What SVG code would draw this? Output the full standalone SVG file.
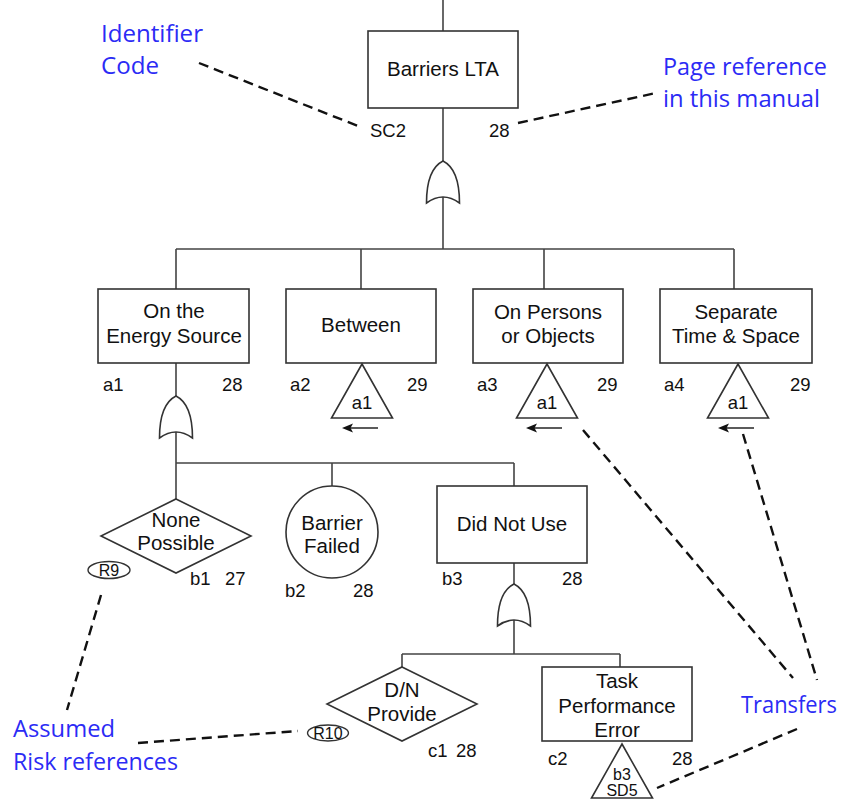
<svg xmlns="http://www.w3.org/2000/svg" width="847" height="799" viewBox="0 0 847 799">
<style>
.ln{stroke:#444;stroke-width:1.6;fill:none}
.bx{fill:#fff;stroke:#333;stroke-width:1.6}
.t{font-family:"Liberation Sans",Arial,sans-serif;font-size:20.5px;fill:#111;text-anchor:middle}
.lb{font-family:"Liberation Sans",Arial,sans-serif;font-size:18.5px;fill:#111}
.sm{font-family:"Liberation Sans",Arial,sans-serif;font-size:16px;fill:#111;text-anchor:middle}
.bl{font-family:"Open Sans","Noto Sans",sans-serif;font-size:24px;fill:#2b2bf5}
.ds{stroke:#111;stroke-width:2.4;stroke-dasharray:10,6;fill:none}
</style>
<defs>
<path id="gate" d="M0,0 C10,5 16.5,17 16.5,42 Q0,30 -16.5,42 C-16.5,17 -10,5 0,0Z" fill="#fff" stroke="#333" stroke-width="1.6"/>
<path id="tri" d="M0,0 L30.5,54 L-30.5,54Z" fill="#fff" stroke="#333" stroke-width="1.6"/>
<path id="arrow" d="M36,0 H4" stroke="#333" stroke-width="1.6" fill="none"/>
<path id="head" d="M0,0 L11,-4.5 L8.5,0 L11,4.5Z" fill="#111"/>
</defs>
<g id="connectors">
<path class="ln" d="M443,0V31 M443,108V161 M443,197V249 M176,249H734 M176,249V289 M361,249V289 M544,249V289 M734,249V289 M176,363V396 M176,432V499 M176,463H514 M332,463V486 M514,463V486 M514,563V584 M514,620V654 M402,654H620 M402,654V667 M620,654V667"/>
<g id="transfer-arrows">
<use href="#arrow" transform="translate(342,428)"/><use href="#head" transform="translate(342,428)"/>
<use href="#arrow" transform="translate(526,428)"/><use href="#head" transform="translate(526,428)"/>
<use href="#arrow" transform="translate(718,428)"/><use href="#head" transform="translate(718,428)"/>
</g>
<g id="gates">
<use href="#gate" transform="translate(443,161)"/>
<use href="#gate" transform="translate(176,396)"/>
<use href="#gate" transform="translate(514,584)"/>
</g>
</g>
<g id="annotations">
<path class="ds" d="M199,63 L358,126"/>
<path class="ds" d="M518,123 L656,93"/>
<path class="ds" d="M101,595 L67,710"/>
<path class="ds" d="M138,743 L298,731"/>
<path class="ds" d="M583,430 L793,678"/>
<path class="ds" d="M743,434 L817,680"/>
<path class="ds" d="M797,729 L657,788"/>
<text class="bl" x="101" y="42" textLength="102" lengthAdjust="spacingAndGlyphs">Identifier</text>
<text class="bl" x="101" y="74" textLength="58" lengthAdjust="spacingAndGlyphs">Code</text>
<text class="bl" x="663" y="75" textLength="164" lengthAdjust="spacingAndGlyphs">Page reference</text>
<text class="bl" x="663" y="107" textLength="157" lengthAdjust="spacingAndGlyphs">in this manual</text>
<text class="bl" x="13" y="737" textLength="102" lengthAdjust="spacingAndGlyphs">Assumed</text>
<text class="bl" x="13" y="770" textLength="165" lengthAdjust="spacingAndGlyphs">Risk references</text>
<text class="bl" x="741" y="713" textLength="96" lengthAdjust="spacingAndGlyphs">Transfers</text>
</g>
<g id="SC2">
<rect class="bx" x="368" y="31" width="150" height="77"/>
<text class="t" x="443" y="76">Barriers LTA</text>
<text class="lb" x="370" y="137">SC2</text>
<text class="lb" x="489" y="137">28</text>
</g>
<g id="a1">
<rect class="bx" x="98" y="289" width="151" height="74"/>
<text class="t" x="174" y="318">On the</text>
<text class="t" x="174" y="343">Energy Source</text>
<text class="lb" x="103" y="391">a1</text>
<text class="lb" x="222" y="391">28</text>
</g>
<g id="a2">
<rect class="bx" x="286" y="289" width="150" height="74"/>
<text class="t" x="361" y="332">Between</text>
<text class="lb" x="290" y="391">a2</text>
<text class="lb" x="407" y="391">29</text>
<use href="#tri" transform="translate(362,364)"/>
<text class="lb" x="362" y="409" text-anchor="middle">a1</text>
</g>
<g id="a3">
<rect class="bx" x="473" y="289" width="150" height="74"/>
<text class="t" x="548" y="319">On Persons</text>
<text class="t" x="548" y="343">or Objects</text>
<text class="lb" x="477" y="391">a3</text>
<text class="lb" x="597" y="391">29</text>
<use href="#tri" transform="translate(547,364)"/>
<text class="lb" x="547" y="409" text-anchor="middle">a1</text>
</g>
<g id="a4">
<rect class="bx" x="660" y="289" width="152" height="74"/>
<text class="t" x="736" y="319">Separate</text>
<text class="t" x="736" y="343">Time &amp; Space</text>
<text class="lb" x="664" y="391">a4</text>
<text class="lb" x="790" y="391">29</text>
<use href="#tri" transform="translate(738,364)"/>
<text class="lb" x="738" y="409" text-anchor="middle">a1</text>
</g>
<g id="b1">
<path class="bx" d="M176,499 L251,536 L176,573 L101,536Z"/>
<text class="t" x="176" y="527">None</text>
<text class="t" x="176" y="550">Possible</text>
<ellipse cx="109" cy="570" rx="21" ry="8.5" fill="#fff" stroke="#333" stroke-width="1.4"/>
<text class="sm" x="109" y="576">R9</text>
<text class="lb" x="190" y="585">b1</text>
<text class="lb" x="225" y="585">27</text>
</g>
<g id="b2">
<circle class="bx" cx="332" cy="532" r="46"/>
<text class="t" x="332" y="530">Barrier</text>
<text class="t" x="332" y="553">Failed</text>
<text class="lb" x="285" y="597">b2</text>
<text class="lb" x="353" y="597">28</text>
</g>
<g id="b3">
<rect class="bx" x="437" y="486" width="150" height="77"/>
<text class="t" x="512" y="531">Did Not Use</text>
<text class="lb" x="442" y="585">b3</text>
<text class="lb" x="562" y="585">28</text>
</g>
<g id="c1">
<path class="bx" d="M402,667 L477,704 L402,741 L327,704Z"/>
<text class="t" x="402" y="697">D/N</text>
<text class="t" x="402" y="721">Provide</text>
<ellipse cx="328" cy="733" rx="20.5" ry="8" fill="#fff" stroke="#333" stroke-width="1.4"/>
<text class="sm" x="328" y="739">R10</text>
<text class="lb" x="428" y="757">c1</text>
<text class="lb" x="456" y="757">28</text>
</g>
<g id="c2">
<rect class="bx" x="542" y="667" width="150" height="74"/>
<text class="t" x="617" y="688">Task</text>
<text class="t" x="617" y="713">Performance</text>
<text class="t" x="617" y="737">Error</text>
<text class="lb" x="548" y="765">c2</text>
<text class="lb" x="672" y="765">28</text>
<use href="#tri" transform="translate(622,744)"/>
<text class="sm" x="622" y="780">b3</text>
<text class="sm" x="622" y="796">SD5</text>
</g>
</svg>
